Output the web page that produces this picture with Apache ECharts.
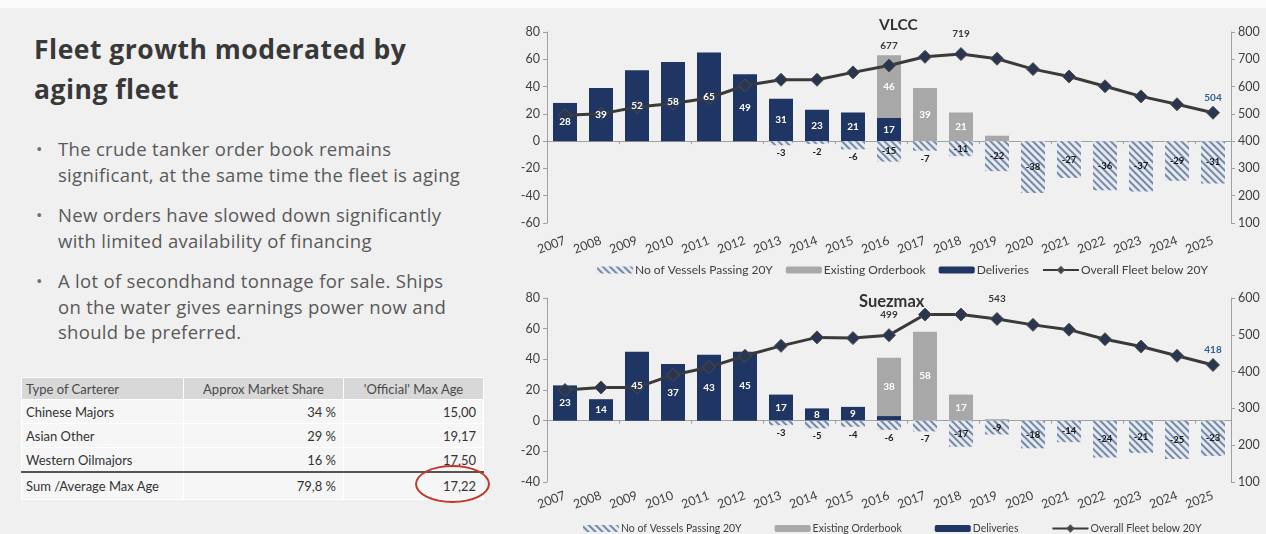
<!DOCTYPE html>
<html>
<head>
<meta charset="utf-8">
<script src="https://cdn.jsdelivr.net/npm/echarts@6/dist/echarts.min.js"></script>
<style>
  html, body { margin: 0; padding: 0; }
  body { width: 1266px; height: 534px; background: #f0f0f0; position: relative; overflow: hidden; font-family: 'Open Sans', Lato, sans-serif; }
  #topband { position: absolute; left: 0; top: 0; width: 1266px; height: 8px; background: #fbfbfb; }
  #headline { position: absolute; left: 34px; top: 29px; font-size: 26.5px; letter-spacing: 0.5px; font-weight: 700; line-height: 40px; color: #383838; white-space: nowrap; }
  .bullet { position: absolute; left: 58px; font-size: 18.5px; letter-spacing: 0.3px; line-height: 25.5px; color: #595959; white-space: nowrap; }
  .bullet::before { content: '\2022'; position: absolute; left: -22px; top: 0; color: #5f7475; font-size: 17px; }
  #b1 { top: 136px; } #b2 { top: 202px; } #b3 { top: 268px; }
  table { position: absolute; left: 21px; top: 377px; border-collapse: collapse; font-family: Lato, sans-serif; font-size: 13px; color: #333; table-layout: fixed; }
  td, th { padding: 0 7px; white-space: nowrap; border: 1px solid #ffffff; }
  th { background: #d8d8d8; font-weight: 400; color: #4a4a4a; height: 21px; }
  td { background: #f6f6f6; height: 23px; }
  th.l, td.l { text-align: left; padding-left: 4px; }
  td.r { text-align: right; }
  tr.sum td { border-top: 2px solid #555; height: 26px; }
  #ring { position: absolute; left: 415px; top: 465px; width: 71px; height: 34px; border: 2px solid #c0392b; border-radius: 50%; }
  #chart { position: absolute; left: 490px; top: 0; width: 776px; height: 534px; }
</style>
</head>
<body>
<div id="topband"></div>
<div id="headline">Fleet growth moderated by<br>aging fleet</div>
<div class="bullet" id="b1">The crude tanker order book remains<br>significant, at the same time the fleet is aging</div>
<div class="bullet" id="b2">New orders have slowed down significantly<br>with limited availability of financing</div>
<div class="bullet" id="b3">A lot of secondhand tonnage for sale. Ships<br>on the water gives earnings power now and<br>should be preferred.</div>

<table>
  <colgroup><col style="width:162px"><col style="width:160px"><col style="width:140px"></colgroup>
  <tr><th class="l">Type of Carterer</th><th>Approx Market Share</th><th>'Official' Max Age</th></tr>
  <tr><td class="l">Chinese Majors</td><td class="r">34 %</td><td class="r">15,00</td></tr>
  <tr><td class="l">Asian Other</td><td class="r">29 %</td><td class="r">19,17</td></tr>
  <tr><td class="l">Western Oilmajors</td><td class="r">16 %</td><td class="r">17,50</td></tr>
  <tr class="sum"><td class="l">Sum /Average Max Age</td><td class="r">79,8 %</td><td class="r">17,22</td></tr>
</table>
<div id="ring"></div>

<div id="chart"></div>

<script>
// Years on the category axis
const years = ['2007','2008','2009','2010','2011','2012','2013','2014','2015','2016',
               '2017','2018','2019','2020','2021','2022','2023','2024','2025'];

// VLCC: vessels per year (left axis) and fleet below 20 years (right axis)
const vlccDeliveries = [28, 39, 52, 58, 65, 49, 31, 23, 21, 17, null, null, null, null, null, null, null, null, null];
const vlccOrderbook  = [null, null, null, null, null, null, null, null, null, 46, 39, 21, 4, null, null, null, null, null, null];
const vlccPassing    = [null, null, null, null, null, null, -3, -2, -6, -15, -7, -11, -22, -38, -27, -36, -37, -29, -31];
const vlccFleet      = [495, 500, 525, 538, 558, 604, 625, 625, 652, 677, 709, 719, 702, 664, 637, 601, 564, 535, 504];
const vlccLabelled   = ['2016', '2018', '2025'];

// Suezmax
const suezDeliveries = [23, 14, 45, 37, 43, 45, 17, 8, 9, 3, null, null, null, null, null, null, null, null, null];
const suezOrderbook  = [null, null, null, null, null, null, null, null, null, 38, 58, 17, 1, null, null, null, null, null, null];
const suezPassing    = [null, null, null, null, null, null, -3, -5, -4, -6, -7, -17, -9, -18, -14, -24, -21, -25, -23];
const suezFleet      = [350, 357, 357, 391, 412, 443, 470, 493, 491, 499, 555, 555, 543, 527, 514, 488, 468, 443, 418];
const suezLabelled   = ['2016', '2019', '2025'];

// Axis ranges and tick steps
const vlccLeftTicks  = { min: -60, max: 80, interval: 20 };
const vlccRightTicks = { min: 100, max: 800, interval: 100 };
const suezLeftTicks  = { min: -40, max: 80, interval: 20 };
const suezRightTicks = { min: 100, max: 600, interval: 100 };

const NAMES = {
  passing: 'No of Vessels Passing 20Y',
  orderbook: 'Existing Orderbook',
  deliveries: 'Deliveries',
  fleet: 'Overall Fleet below 20Y'
};

const FONT = 'Lato';
const NAVY = '#1f3563';
const GREY = '#a8a8a8';
const AXIS = '#a0a0a0';
const TEXT = '#404040';

const hatch = {
  symbol: 'rect',
  symbolSize: 1,
  color: '#7489aa',
  dashArrayX: [1, 0],
  dashArrayY: [1.5, 2.8],
  rotation: Math.PI / 4
};

const barLabel = {
  show: true,
  position: 'inside',
  color: '#ffffff',
  fontSize: 10,
  fontWeight: 'bold',
  fontFamily: FONT,
  formatter: p => (p.value >= 5 ? p.value : '')
};

function buildGrid(gi, d, o, p, f, labelled, stackName) {
  const xa = gi * 2;      // x axis with year labels
  const xz = gi * 2 + 1;  // x axis drawn on the zero line
  const ya = gi * 2;      // left value axis
  const bar = (name, data, color, stack, axis, extra) => Object.assign({
    name: name, type: 'bar', stack: stack,
    xAxisIndex: axis, yAxisIndex: ya, barWidth: 24,
    itemStyle: { color: color },
    data: data
  }, extra || {});
  return [
    bar(NAMES.deliveries, d, NAVY, stackName, xa),
    bar(NAMES.orderbook, o, GREY, stackName, xa),
    bar(NAMES.passing, p.map(v => v == null ? null : {
      value: v,
      label: { position: Math.abs(v) >= 9 ? 'inside' : 'bottom' }
    }), '#e6e9ee', stackName, xa, {
      itemStyle: { color: '#e6e9ee', decal: hatch },
      label: { show: true, color: '#1a1a1a', fontSize: 9.5, fontWeight: 'bold', fontFamily: FONT, distance: 3 }
    }),
    {
      name: NAMES.fleet, type: 'line',
      xAxisIndex: xa, yAxisIndex: ya + 1,
      symbol: 'diamond', symbolSize: 13,
      lineStyle: { color: '#3a3a3a', width: 3 },
      itemStyle: { color: '#2a3650', borderColor: '#4d4d4d', borderWidth: 1 },
      data: f.map((v, i) => {
        const yr = years[i];
        if (!labelled.includes(yr)) return v;
        const last = i === f.length - 1;
        return {
          value: v,
          label: {
            show: true, position: 'top', distance: last ? 3 : 8,
            fontSize: 10, fontWeight: 'bold', fontFamily: FONT,
            color: last ? '#2f5f8f' : '#3a3a3a'
          }
        };
      })
    },
    // value labels for the stacked bars, kept above the fleet line
    bar('deliveries-values', d, 'rgba(0,0,0,0)', stackName + '-values', xz, { z: 4, label: barLabel, silent: true }),
    bar('orderbook-values', o, 'rgba(0,0,0,0)', stackName + '-values', xz, { z: 4, label: barLabel, silent: true })
  ];
}

function xAxes(gi, margin) {
  return [
    {
      gridIndex: gi, type: 'category', data: years, position: 'bottom',
      axisLine: { show: false, onZero: false }, axisTick: { show: false },
      axisLabel: { rotate: 20, margin: margin, fontSize: 12.5, color: TEXT, fontFamily: FONT, interval: 0 }
    },
    {
      gridIndex: gi, type: 'category', data: years, position: 'bottom',
      axisLine: { show: true, onZero: true, lineStyle: { color: AXIS, width: 1 } },
      axisTick: { show: true, length: 3, lineStyle: { color: AXIS } },
      axisLabel: { show: false }
    }
  ];
}

function yAxes(gi, left, right) {
  const common = {
    gridIndex: gi, type: 'value',
    axisLine: { show: true, lineStyle: { color: AXIS } },
    axisTick: { show: true, length: 4, lineStyle: { color: AXIS } },
    splitLine: { show: false },
    axisLabel: { fontSize: 12.5, color: TEXT, fontFamily: FONT, margin: 7 }
  };
  return [
    Object.assign({}, common, { position: 'left', min: left.min, max: left.max, interval: left.interval }),
    Object.assign({}, common, { position: 'right', min: right.min, max: right.max, interval: right.interval })
  ];
}

function legend(top, left, gap, size) {
  return {
    top: top, left: left, itemGap: gap, itemWidth: 36, itemHeight: 7,
    data: [NAMES.passing, NAMES.orderbook, NAMES.deliveries, NAMES.fleet],
    textStyle: { fontSize: size, color: TEXT, fontFamily: FONT, padding: [0, 0, 0, -3] },
    selectedMode: false
  };
}

const chart = echarts.init(document.getElementById('chart'), null, { renderer: 'canvas' });

chart.setOption({
  animation: false,
  textStyle: { fontFamily: FONT },
  title: [
    { text: 'VLCC', left: 384, top: 12, textStyle: { fontSize: 15.5, fontWeight: 'bold', color: '#333', fontFamily: FONT } },
    { text: 'Suezmax', left: 364, top: 288, textStyle: { fontSize: 16.5, fontWeight: 'bold', color: '#333', fontFamily: FONT } }
  ],
  legend: [legend(259, 102, 13, 12), legend(518, 88, 33, 10.5)],
  grid: [
    { left: 57, right: 35, top: 32, height: 191 },
    { left: 57, right: 35, top: 298, height: 184 }
  ],
  xAxis: [...xAxes(0, 17), ...xAxes(1, 13)],
  yAxis: [...yAxes(0, vlccLeftTicks, vlccRightTicks), ...yAxes(1, suezLeftTicks, suezRightTicks)],
  series: [
    ...buildGrid(0, vlccDeliveries, vlccOrderbook, vlccPassing, vlccFleet, vlccLabelled, 'vlcc'),
    ...buildGrid(1, suezDeliveries, suezOrderbook, suezPassing, suezFleet, suezLabelled, 'suez')
  ]
});
</script>
</body>
</html>
